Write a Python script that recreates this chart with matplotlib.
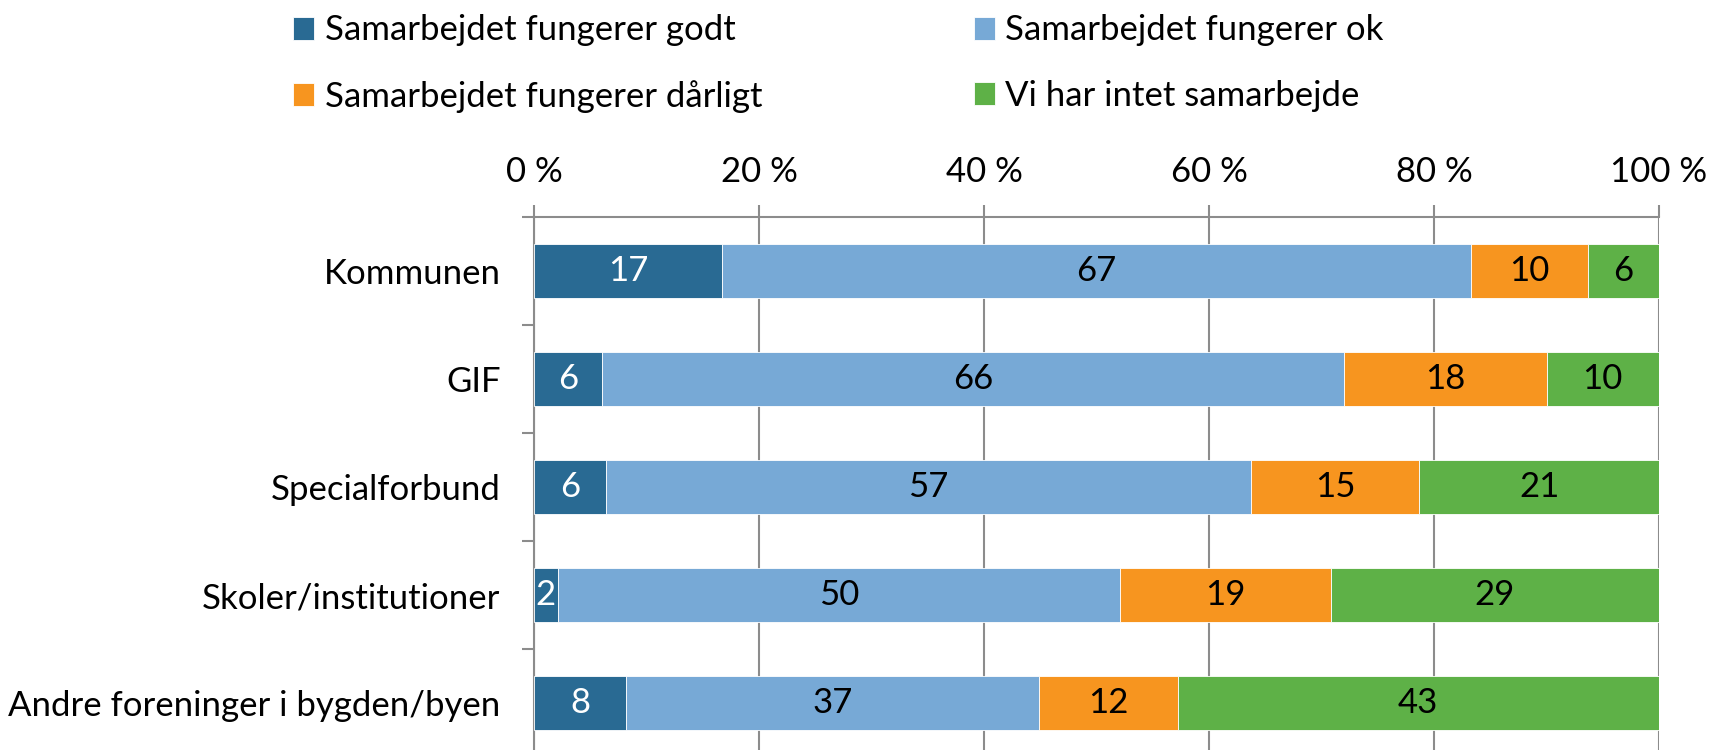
import matplotlib
matplotlib.use("Agg")
import matplotlib.pyplot as plt
import numpy as np

plt.rcParams['font.family'] = ['Lato', 'DejaVu Sans']

categories = ["Kommunen", "GIF", "Specialforbund", "Skoler/institutioner",
              "Andre foreninger i bygden/byen"]
series_names = ["Samarbejdet fungerer godt", "Samarbejdet fungerer ok",
                "Samarbejdet fungerer dårligt", "Vi har intet samarbejde"]
godt = [16.7, 6.0, 6.4, 2.1, 8.2]
ok = [66.6, 66.0, 57.3, 50.0, 36.7]
daarligt = [10.4, 18.0, 15.0, 18.7, 12.3]
intet = [6.3, 10.0, 21.3, 29.2, 42.8]
xticks = [0, 20, 40, 60, 80, 100]
xtick_labels = ["0 %", "20 %", "40 %", "60 %", "80 %", "100 %"]

colors = ["#296A93", "#77A9D6", "#F7951F", "#5EB147"]
text_colors = ["white", "black", "black", "black"]

W, H = 1710, 750
fig = plt.figure(figsize=(W / 100, H / 100), dpi=100)
ax = fig.add_axes([534 / W, -7 / H, 1125 / W, 540 / H])

fs = 25
y = np.arange(len(categories))
left = np.zeros(len(categories))
for vals, col, tcol, name in zip([godt, ok, daarligt, intet], colors, text_colors, series_names):
    vals = np.array(vals)
    ax.barh(y, vals, left=left, height=0.5, color=col, edgecolor="white",
            linewidth=0.6, label=name, zorder=3)
    for yi, l, v in zip(y, left, vals):
        ax.text(l + v / 2, yi, f"{round(v):d}", ha="center", va="center",
                color=tcol, fontsize=fs, zorder=4)
    left += vals

ax.set_xlim(0, 100)
ax.set_ylim(4.5, -0.5)
ax.xaxis.tick_top()
ax.set_xticks(xticks)
ax.set_xticklabels(xtick_labels, fontsize=fs)
ax.set_yticks(y)
ax.set_yticklabels(categories, fontsize=fs)
ax.set_yticks(np.arange(-0.5, 4.6, 1), minor=True)
gray = "#8C8C8C"
ax.tick_params(axis="y", which="major", length=0, pad=24)
ax.tick_params(axis="y", which="minor", length=9, width=1.5, color=gray, direction="out")
ax.tick_params(axis="x", which="major", length=9, width=1.5, color=gray, direction="out", pad=12)
ax.grid(axis="x", color=gray, linewidth=1.5, zorder=0)
for s in ["right", "bottom"]:
    ax.spines[s].set_visible(False)
for s in ["left", "top"]:
    ax.spines[s].set_color(gray)
    ax.spines[s].set_linewidth(1.5)

handles, labels = ax.get_legend_handles_labels()
order = [0, 2, 1, 3]
fig.legend([handles[i] for i in order], [labels[i] for i in order], ncol=2,
           loc="upper left", bbox_to_anchor=(276 / W, 1.004),
           frameon=False, fontsize=fs, handlelength=0.6, handleheight=0.65,
           handletextpad=0.3, columnspacing=6.1, labelspacing=0.97, borderaxespad=0.1)

fig.savefig("out.png", dpi=100)
